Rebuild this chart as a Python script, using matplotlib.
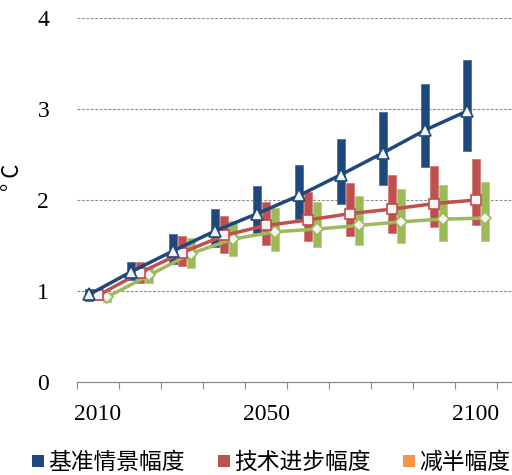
import matplotlib
matplotlib.use("Agg")
import matplotlib.pyplot as plt
from matplotlib.lines import Line2D
import numpy as np

# Decades on the category axis and which ones get a printed label
years = [2010, 2020, 2030, 2040, 2050, 2060, 2070, 2080, 2090, 2100]
shown_years = [2010, 2050, 2100]

# Baseline scenario: range and central estimate (°C)
base_low = [0.89, 1.12, 1.30, 1.48, 1.64, 1.79, 1.96, 2.17, 2.36, 2.54]
base_high = [1.02, 1.32, 1.63, 1.90, 2.15, 2.39, 2.67, 2.97, 3.28, 3.54]
base_mid = [0.96, 1.21, 1.44, 1.66, 1.85, 2.05, 2.28, 2.52, 2.77, 2.98]

# Technology-progress scenario
tech_low = [0.90, 1.09, 1.27, 1.42, 1.50, 1.55, 1.60, 1.64, 1.70, 1.73]
tech_high = [1.01, 1.32, 1.60, 1.82, 1.98, 2.09, 2.19, 2.27, 2.37, 2.45]
tech_mid = [0.95, 1.20, 1.42, 1.61, 1.72, 1.78, 1.85, 1.90, 1.96, 2.00]

# Emissions-halving scenario
half_low = [0.88, 1.09, 1.25, 1.38, 1.44, 1.48, 1.50, 1.53, 1.55, 1.55]
half_high = [0.97, 1.26, 1.58, 1.77, 1.91, 1.98, 2.04, 2.12, 2.17, 2.20]
half_mid = [0.93, 1.17, 1.41, 1.57, 1.65, 1.68, 1.72, 1.76, 1.79, 1.80]

legend_labels = ["基准情景幅度", "技术进步幅度", "减半幅度"]

BLUE = "#1F497D"
RED = "#C0504D"
GREEN = "#9BBB59"
ORANGE = "#F79646"
GRID = "#8C8C8C"

num_font = "Liberation Serif"
cjk_font = ["Noto Sans CJK SC", "DejaVu Sans"]

fig = plt.figure(figsize=(5.12, 4.75), dpi=100)
ax = fig.add_axes([77 / 512, 93.3 / 475, 1 - 77 / 512, (456.7 - 93.3) / 475])

x = np.arange(len(years))
offset = 0.21
width = 0.2

series = [
    (base_low, base_high, base_mid, BLUE, "#4F6F9A", "^", -offset, 6, 8.0),
    (tech_low, tech_high, tech_mid, RED, "#D27D7A", "s", 0.0, 5, 7.4),
    (half_low, half_high, half_mid, GREEN, "#B5CD84", "D", offset, 4, 6.4),
]

# Floating range bars
for low, high, mid, col, edge, mk, off, z, ms in series:
    lo = np.array(low)
    hi = np.array(high)
    ax.bar(x + off, hi - lo, bottom=lo, width=width, color=col,
           edgecolor=edge, linewidth=0.6, zorder=2)

# Central-estimate lines with hollow markers
for low, high, mid, col, edge, mk, off, z, ms in series:
    ax.plot(x + off, mid, color=col, linewidth=2.5, marker=mk,
            markersize=ms, markerfacecolor="#F4F4F4",
            markeredgecolor=col, markeredgewidth=1.2, zorder=z)

ax.set_xlim(-0.5, -0.5 + (512 - 77) / 42)
ax.set_ylim(0, 4)

# Category boundaries as tick marks, labels centred on categories
ax.set_xticks(np.arange(-0.5, len(years), 1.0))
ax.set_xticklabels([])
ax.set_xticks(x, minor=True)
ax.set_xticklabels([str(y) if y in shown_years else "" for y in years],
                   minor=True, fontfamily=num_font, fontsize=17)
ax.tick_params(axis="x", which="major", direction="out", length=5,
               width=0.8, color=GRID)
ax.tick_params(axis="x", which="minor", length=0, pad=16)

ax.set_yticks([0, 1, 2, 3, 4])
ax.set_yticklabels(["0", "1", "2", "3", "4"], fontfamily=num_font,
                   fontsize=17)
ax.tick_params(axis="y", length=0, pad=20)

ax.yaxis.grid(True, linestyle=(0, (2.5, 1.5)), color=GRID, linewidth=0.8)
ax.set_axisbelow(True)
for side in ["left", "right", "top"]:
    ax.spines[side].set_visible(False)
ax.spines["bottom"].set_color(GRID)
ax.spines["bottom"].set_linewidth(0.9)
ax.spines["bottom"].set_zorder(1)

fig.text(0.024, 0.627, "° C", rotation=90, ha="center", va="center",
         fontsize=16, fontfamily=cjk_font)

handles = [Line2D([], [], linestyle="none", marker="s", markersize=8.6,
                  color=c, markeredgewidth=0) for c in (BLUE, RED, ORANGE)]
fig.legend(handles, legend_labels, loc="center",
           bbox_to_anchor=(0.530, 0.026), ncol=3, frameon=False,
           prop={"family": cjk_font, "size": 16.4},
           handlelength=0.5, handletextpad=0.2, columnspacing=1.45,
           borderpad=0, borderaxespad=0)

fig.savefig("out.png", dpi=100)
